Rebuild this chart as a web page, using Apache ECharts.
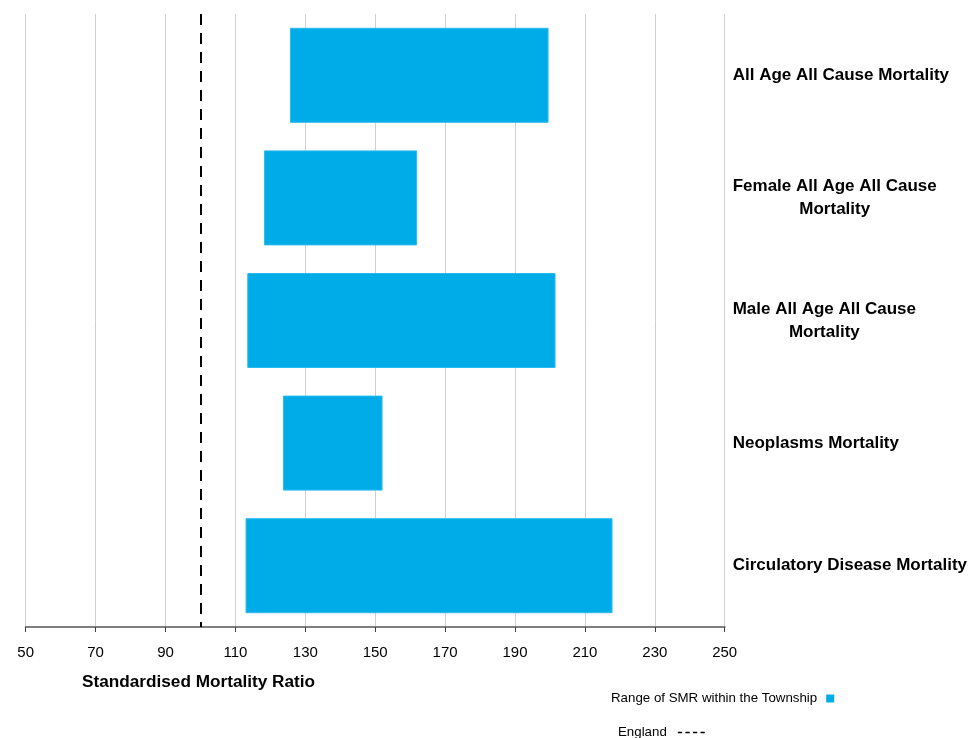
<!DOCTYPE html>
<html>
<head>
<meta charset="utf-8">
<script src="https://cdn.jsdelivr.net/npm/echarts@6/dist/echarts.min.js"></script>
<style>html,body{margin:0;padding:0;background:#fff}#c{width:973px;height:738px}</style>
</head>
<body>
<div id="c"></div>
<script>
var categories = [
  'All Age All Cause Mortality',
  'Female All Age All Cause\nMortality',
  'Male All Age All Cause\nMortality',
  'Neoplasms Mortality',
  'Circulatory Disease Mortality'
];
var smrLow  = [125.6, 118.2, 113.4, 123.6, 112.9];
var smrHigh = [199.6, 162.0, 201.6, 152.1, 217.9];
var englandValue = 100;
var xTicks = [50, 70, 90, 110, 130, 150, 170, 190, 210, 230, 250];

var rangeVals = smrHigh.map(function (h, i) { return +(h - smrLow[i]).toFixed(2); });
var FONT = "'Liberation Sans', Arial, sans-serif";

var chart = echarts.init(document.getElementById('c'), null, {renderer: 'canvas'});
chart.setOption({
  animation: false,
  backgroundColor: '#ffffff',
  textStyle: {fontFamily: FONT},
  title: {
    text: 'Standardised Mortality Ratio',
    left: 82, top: 674, padding: 0,
    textStyle: {fontFamily: FONT, fontSize: 17.2, fontWeight: 'bold', color: '#000'}
  },
  legend: [
    {
      data: ['Range of SMR within the Township'],
      left: 611, top: 692, padding: 0,
      align: 'right', icon: 'rect', itemWidth: 8, itemHeight: 8,
      itemStyle: {color: '#00ACE8', borderWidth: 0},
      textStyle: {fontFamily: FONT, fontSize: 13.3, color: '#000', padding: [0, 4, 0, 0]},
      selectedMode: false
    },
    {
      data: [{name: 'England', icon: 'path://M0,0h4v1h-4z M7,0h4v1h-4z M14,0h4v1h-4z M21,0h4v1h-4z'}],
      left: 618, top: 726, padding: 0,
      align: 'right', itemWidth: 27, itemHeight: 1.5, symbolKeepAspect: false,
      itemStyle: {color: '#000'},
      textStyle: {fontFamily: FONT, fontSize: 13.3, color: '#000', padding: [0, 6, 0, 0]},
      selectedMode: false
    }
  ],
  grid: {left: 25.7, right: 248.3, top: 14, bottom: 111, containLabel: false},
  xAxis: {
    type: 'value', min: 50, max: 250, interval: 20,
    axisLine: {show: true, lineStyle: {color: '#7f7f7f', width: 2}},
    axisTick: {show: true, length: 5, lineStyle: {color: '#404040', width: 1}},
    axisLabel: {
      margin: 18, color: '#000', fontFamily: FONT, fontSize: 15,
      formatter: function (v) { return xTicks.indexOf(v) >= 0 ? String(v) : ''; }
    },
    splitLine: {show: true, lineStyle: {color: '#d0d0d0', width: 1}}
  },
  yAxis: {
    type: 'category', data: categories, inverse: true, position: 'right',
    axisLine: {show: false}, axisTick: {show: false}, splitLine: {show: false},
    axisLabel: {
      margin: 8, align: 'left', color: '#000', fontFamily: FONT, fontSize: 17, fontWeight: 'bold', lineHeight: 23,
      formatter: function (v) {
        var parts = v.split('\n');
        if (parts.length === 1) return '{a|' + parts[0] + '}';
        return '{a|' + parts[0] + '}\n{b|' + parts[1] + '}';
      },
      rich: {
        a: {fontFamily: FONT, fontSize: 17, fontWeight: 'bold', color: '#000', lineHeight: 23, align: 'left'},
        b: {fontFamily: FONT, fontSize: 17, fontWeight: 'bold', color: '#000', lineHeight: 23, align: 'center'}
      }
    }
  },
  series: [
    {
      name: 'base', type: 'bar', stack: 'smr', data: smrLow, barWidth: '77.5%',
      itemStyle: {color: 'rgba(0,0,0,0)'}, silent: true, legendHoverLink: false
    },
    {
      name: 'Range of SMR within the Township', type: 'bar', stack: 'smr', data: rangeVals, barWidth: '77.5%',
      itemStyle: {color: '#00ACE8', borderColor: '#2bbaf0', borderWidth: 1}
    },
    {
      name: 'England', type: 'line', data: [], symbol: 'none',
      lineStyle: {color: '#000', type: 'dashed', width: 2},
      itemStyle: {color: '#000'},
      markLine: {
        silent: true, symbol: ['none', 'none'],
        label: {show: false},
        lineStyle: {color: '#000', type: [11, 8], width: 2},
        data: [{xAxis: englandValue}]
      }
    }
  ]
});
</script>
</body>
</html>
